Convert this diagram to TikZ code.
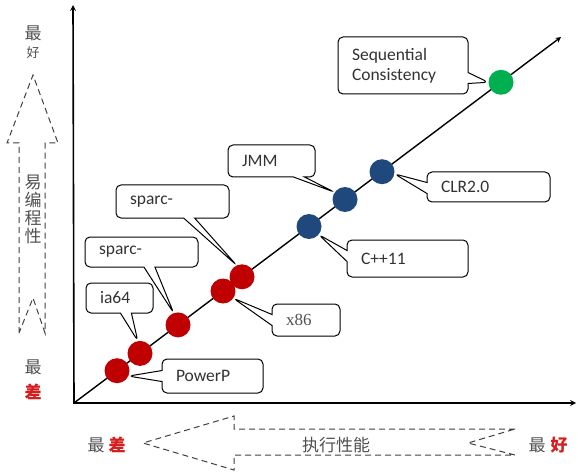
\documentclass[tikz,border=0pt]{standalone}
\usepackage{fontspec}
\setmainfont{Carlito}
\newfontfamily\cjkfont{Noto Sans CJK SC}
\newfontfamily\seriffont{Liberation Serif}
\usetikzlibrary{shapes.callouts}
\definecolor{dotred}{RGB}{192,0,0}
\definecolor{dotblue}{RGB}{31,73,125}
\definecolor{dotgreen}{RGB}{0,176,80}
\definecolor{hintgray}{RGB}{80,80,80}
\definecolor{worstred}{RGB}{215,30,30}

\begin{document}
\begin{tikzpicture}[x=1pt, y=-1pt,
  model/.style={circle, minimum size=25, inner sep=0},
  callbox/.style={rectangle callout, rounded corners=5, draw=black, line width=1, fill=white, inner xsep=14, inner ysep=0, align=left, text=black!80, callout pointer width=11, font=\fontsize{17.5}{20}\selectfont},
  hint/.style={inner sep=0, text=hintgray, font=\cjkfont\fontsize{17}{19}\selectfont},
  hollow/.style={draw=black!75, line width=1, dash pattern=on 6pt off 4pt}]
  \useasboundingbox (0,0) rectangle (578,473);

  % Axes and the main diagonal
  \coordinate (ytop) at (73,5);
  \coordinate (origin) at (74,403);
  \coordinate (xend) at (576,403);
  \coordinate (diagend) at (561,37);
  \draw [stealth-stealth, line width=1.6] (ytop) -- (origin) -- (xend);
  \draw [-stealth, line width=1.4] (origin) -- (diagend);

  % Memory models on the diagonal
  \node (powerp) [model, fill=dotred] at (117,370.7) {};
  \node (ia) [model, fill=dotred] at (140,353.4) {};
  \node (sparclow) [model, fill=dotred] at (178,324.9) {};
  \node (xeightysix) [model, fill=dotred] at (223,291) {};
  \node (sparchigh) [model, fill=dotred] at (242,276.8) {};
  \node (cpp) [model, fill=dotblue] at (309,226.5) {};
  \node (jmm) [model, fill=dotblue] at (345,199.5) {};
  \node (clr) [model, fill=dotblue] at (382,171.7) {};
  \node (seqcons) [model, fill=dotgreen] at (501,82.3) {};

  % Callouts
  \node (seqconsbox) [callbox, minimum height=57, text width=102, callout absolute pointer={(seqcons.180)}] at (403,65.5) {Sequential\\Consistency};
  \node (clrbox) [callbox, minimum height=30, text width=95, callout absolute pointer={(clr.-10)}] at (488.5,187) {CLR2.0};
  \node (jmmbox) [callbox, minimum height=32, text width=59, callout absolute pointer={(jmm.145)}] at (271.5,161) {JMM};
  \node (cppbox) [callbox, minimum height=37, text width=93, callout absolute pointer={(cpp.-40)}] at (407.5,258.5) {C++11};
  \node (xeightysixbox) [callbox, minimum height=32, text width=40, text=hintgray, font=\seriffont\fontsize{17}{20}\selectfont, callout absolute pointer={(xeightysix.-35)}] at (306,320) {x86};
  \node (powerpbox) [callbox, minimum height=34, text width=73, callout absolute pointer={(powerp.-25)}] at (212.5,376) {PowerP};
  \node (iabox) [callbox, minimum height=30, text width=39, callout absolute pointer={(ia.100)}] at (119.5,298) {ia64};
  \node (sparclowbox) [callbox, minimum height=30, text width=85, callout absolute pointer={(sparclow.110)}] at (141.5,252) {sparc-};
  \node (sparchighbox) [callbox, minimum height=33, text width=85, callout absolute pointer={(sparchigh.115)}] at (172.5,201.5) {sparc-};

  % Programmability arrow
  \draw [hollow] (19,333) -- (19,143) -- (7,143) -- (33,75) -- (58,143) -- (45,143) -- (45,333) -- (33,298) -- cycle;
  \node (topmost) [hint] at (33,33) {最};
  \node (topbest) [hint, font=\cjkfont\fontsize{13}{15}\selectfont] at (33,53) {好};
  \node (easeprog) [hint, align=center, font=\cjkfont\fontsize{17}{18}\selectfont] at (33,209) {易\\编\\程\\性};
  \node (bottommost) [hint] at (33,367) {最};
  \node (bottomworst) [hint, text=worstred, font=\cjkfont\bfseries\fontsize{17}{19}\selectfont] at (33,392) {差};

  % Performance arrow
  \draw [hollow] (515,429) -- (234,429) -- (234,416) -- (143,443) -- (234,470) -- (234,455) -- (515,455) -- (468,443) -- cycle;
  \node (leftmost) [hint] at (96,445) {最};
  \node (leftworst) [hint, text=worstred, font=\cjkfont\bfseries\fontsize{17}{19}\selectfont] at (117,445) {差};
  \node (perf) [hint] at (336,445) {执行性能};
  \node (rightmost) [hint] at (537,445) {最};
  \node (rightbest) [hint, text=worstred, font=\cjkfont\bfseries\fontsize{17}{19}\selectfont] at (559,445) {好};
\end{tikzpicture}
\end{document}
